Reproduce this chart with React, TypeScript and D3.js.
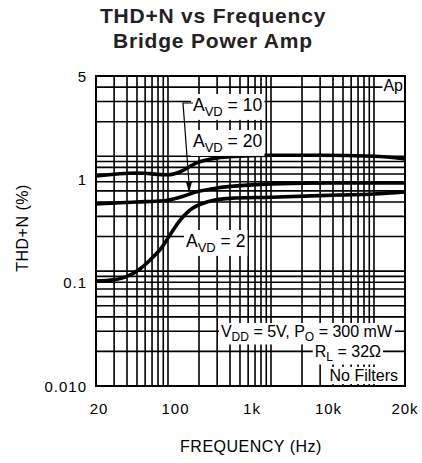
import React, { useEffect, useRef } from "react";
import * as d3 from "d3";

// ---- data ----
const freqA20 = [20, 50, 100, 130, 190, 300, 500, 1000, 3000, 10000, 20000];
const thdA20 = [0.674, 0.715, 0.69, 0.73, 0.875, 0.965, 1.0, 1.02, 1.02, 1.0, 0.95];

const freqA10 = [20, 50, 90, 130, 190, 300, 500, 1000, 4000, 20000];
const thdA10 = [0.385, 0.4, 0.41, 0.44, 0.49, 0.53, 0.555, 0.575, 0.585, 0.585];

const freqA2 = [20, 30, 40, 53, 67, 89, 104, 130, 163, 238, 400, 1000, 4600, 10000, 20000];
const thdA2 = [0.082, 0.084, 0.09, 0.104, 0.125, 0.165, 0.205, 0.275, 0.34, 0.4, 0.43, 0.44, 0.46, 0.47, 0.49];

const xTickLabels = ["20", "100", "1k", "10k", "20k"];
const yTickLabels = ["5", "1", "0.1", "0.010"];
const xDomain = [20, 20000];
const yDomain = [0.01, 5];

const FONT = "'Liberation Sans', Arial, sans-serif";

export default function App() {
  const ref = useRef<SVGSVGElement>(null);

  useEffect(() => {
    const svg = d3.select(ref.current);
    svg.selectAll("*").remove();

    const left = 96, right = 405, top = 76, bottom = 386;
    const x = d3.scaleLog().domain(xDomain).range([left, right]);
    const y = d3.scaleLog().domain(yDomain).range([bottom, top]);

    // Title
    const title = svg.append("g").attr("font-family", FONT).attr("font-weight", "bold")
      .attr("font-size", 21).attr("text-anchor", "middle").attr("fill", "#222");
    title.append("text").attr("x", 213).attr("y", 23).attr("letter-spacing", 0.8).text("THD+N vs Frequency");
    title.append("text").attr("x", 213).attr("y", 48).attr("letter-spacing", 0.8).text("Bridge Power Amp");

    // grid
    const grid = svg.append("g").attr("stroke", "#000").attr("stroke-width", 1.6);
    grid.selectAll("line.v").data(x.ticks()).join("line").attr("class", "v")
      .attr("x1", d => x(d)).attr("x2", d => x(d)).attr("y1", top).attr("y2", bottom);
    grid.selectAll("line.h").data(y.ticks()).join("line").attr("class", "h")
      .attr("y1", d => y(d)).attr("y2", d => y(d)).attr("x1", left).attr("x2", right);

    // curves
    const line = d3.line<[number, number]>().x(d => x(d[0])).y(d => y(d[1])).curve(d3.curveMonotoneX);
    const series = [
      d3.zip(freqA20, thdA20),
      d3.zip(freqA10, thdA10),
      d3.zip(freqA2, thdA2),
    ];
    svg.append("g").selectAll("path").data(series).join("path")
      .attr("d", d => line(d as [number, number][]))
      .attr("fill", "none").attr("stroke", "#000").attr("stroke-width", 3.6)
      .attr("stroke-linejoin", "round");

    // annotations with white knockout boxes
    const ann = svg.append("g").attr("font-family", FONT).attr("fill", "#000");
    const label = (tx: number, ty: number, parts: [string, boolean][], size: number, sub: number, anchor = "start", padX = 2, padY = 1) => {
      const g = ann.append("g");
      const rect = g.append("rect").attr("fill", "#fff");
      const t = g.append("text").attr("x", tx).attr("y", ty).attr("font-size", size).attr("text-anchor", anchor);
      let prevSub = false;
      parts.forEach(([s, isSub]) => {
        const sp = t.append("tspan").text(s);
        if (isSub) sp.attr("font-size", sub);
        if (isSub && !prevSub) sp.attr("dy", size * 0.28);
        if (!isSub && prevSub) sp.attr("dy", -size * 0.28);
        prevSub = isSub;
      });
      const bb = (t.node() as SVGTextElement).getBBox();
      rect.attr("x", bb.x - padX).attr("y", bb.y - padY).attr("width", bb.width + 2 * padX).attr("height", bb.height + 2 * padY);
    };

    label(193, 111, [["A", false], ["VD", true], [" = 10", false]], 17.5, 13);
    label(193, 147, [["A", false], ["VD", true], [" = 20", false]], 17.5, 13);
    label(186, 247, [["A", false], ["VD", true], [" = 2", false]], 17.5, 13);
    label(403, 91, [["Ap", false]], 16, 12, "end", 1, 0);
    label(392, 337, [["V", false], ["DD", true], [" = 5V, P", false], ["O", true], [" = 300 mW", false]], 16, 12, "end", 2, 0);
    label(381, 357, [["R", false], ["L", true], [" = 32\u03A9", false]], 16, 12, "end", 2, 0);
    label(398, 381, [["No Filters", false]], 16, 12, "end", 2, 0);

    // arrow for A_VD = 10
    const tip: [number, number] = [189, 193];
    ann.append("path")
      .attr("d", `M193,103 L183,103 L${tip[0]},${tip[1] - 10}`)
      .attr("fill", "none").attr("stroke", "#000").attr("stroke-width", 1.2);
    ann.append("path")
      .attr("d", `M${tip[0]},${tip[1]} L${tip[0] - 3.2},${tip[1] - 12} L${tip[0] + 3.2},${tip[1] - 12} Z`)
      .attr("fill", "#000");

    // border
    svg.append("rect").attr("x", left).attr("y", top).attr("width", right - left).attr("height", bottom - top)
      .attr("fill", "none").attr("stroke", "#000").attr("stroke-width", 2);

    // tick labels (evenly placed, as in the reference)
    const xl = d3.scalePoint<string>().domain(xTickLabels).range([99, 405]);
    svg.append("g").attr("font-family", FONT).attr("font-size", 15).attr("letter-spacing", 1)
      .attr("text-anchor", "middle").attr("fill", "#000")
      .selectAll("text").data(xTickLabels).join("text")
      .attr("x", d => xl(d)!).attr("y", 414).text(d => d);

    const yl = d3.scalePoint<string>().domain(yTickLabels).range([top, bottom]);
    svg.append("g").attr("font-family", FONT).attr("font-size", 15).attr("letter-spacing", 1)
      .attr("text-anchor", "end").attr("fill", "#000")
      .selectAll("text").data(yTickLabels).join("text")
      .attr("x", 87).attr("y", d => yl(d)! + 5.5).text(d => d);

    // axis titles
    svg.append("text").attr("font-family", FONT).attr("font-size", 16).attr("text-anchor", "middle")
      .attr("x", 251).attr("y", 452).attr("letter-spacing", 0.5).text("FREQUENCY (Hz)");
    svg.append("text").attr("font-family", FONT).attr("font-size", 16).attr("text-anchor", "middle")
      .attr("transform", "translate(28,228) rotate(-90)").attr("letter-spacing", 0.5).text("THD+N (%)");
  }, []);

  return (
    <svg ref={ref} width={422} height={463}
      style={{ position: "absolute", left: 0, top: 0, background: "#fff", display: "block" }} />
  );
}
